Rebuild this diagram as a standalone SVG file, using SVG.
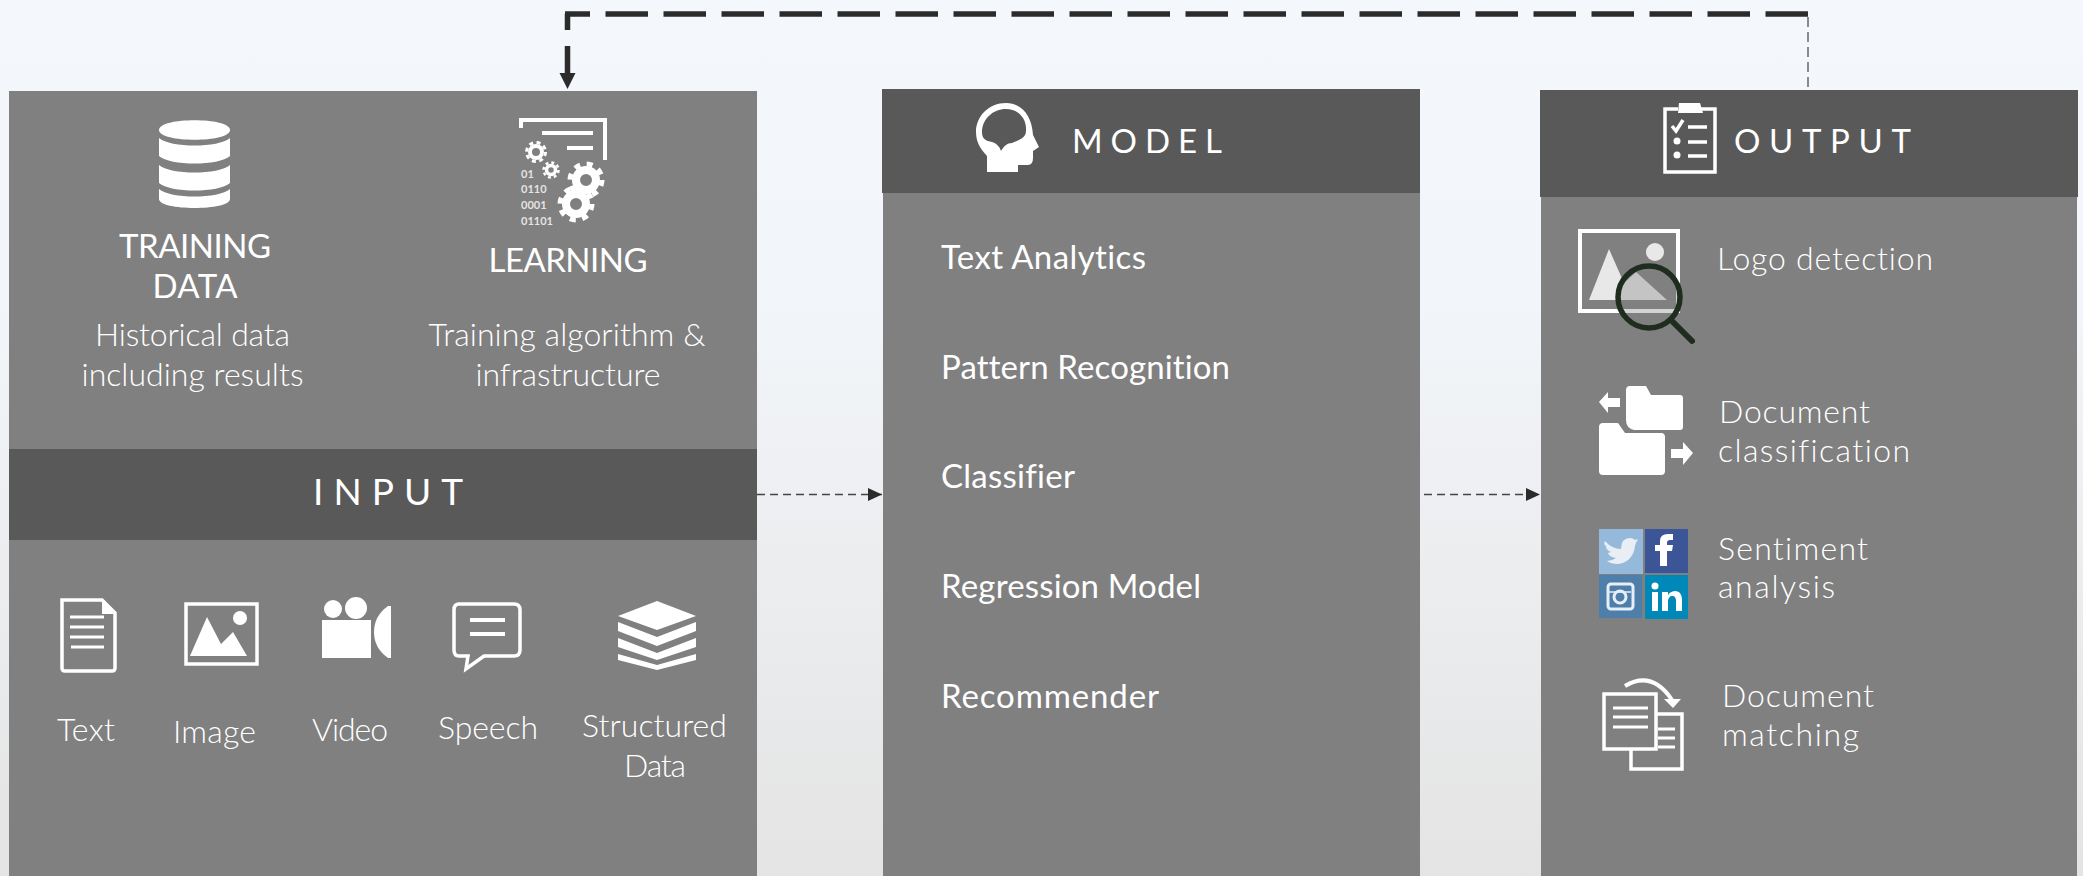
<svg xmlns="http://www.w3.org/2000/svg" width="2083" height="876" viewBox="0 0 2083 876">
<style>
text{font-family:"Lato","Open Sans","Liberation Sans",sans-serif;fill:#fff;font-weight:300;font-size:32px;font-variant-ligatures:none}
.m{text-anchor:middle}
.h{font-size:33px;font-weight:400}
.item{font-size:33px;font-weight:400}
.bin{font-size:11px;font-weight:700;fill:#e4e4e4}
.panel{fill:#808080}
.head{fill:#595959}
.w{fill:#fff}
.o{fill:none;stroke:#fff;stroke-width:3.5}
.l{fill:none;stroke:#fff;stroke-width:3}
</style>
<defs>
<linearGradient id="bg" x1="0" y1="0" x2="0" y2="1"><stop offset="0" stop-color="#f4f8fc"/><stop offset="0.35" stop-color="#f2f5f9"/><stop offset="1" stop-color="#e4e4e4"/></linearGradient>
<marker id="a" markerUnits="userSpaceOnUse" markerWidth="14" markerHeight="14" refX="14" refY="7" orient="auto"><path d="M0 0.5L14 7L0 13.5Z" fill="#2b2b2b"/></marker>
</defs>
<rect width="2083" height="876" fill="url(#bg)"/>
<g id="input">
<rect class="panel" x="9" y="91" width="748" height="785"/>
<rect class="head" x="9" y="449" width="748" height="91"/>
<text x="313" y="505" style="font-size:37px;font-weight:400" textLength="150">INPUT</text>
</g>
<g id="training-data">
<path class="w" d="M159 130C159 117 230 117 230 130C230 143 159 143 159 130Z"/>
<path class="w" d="M159 138C170 148 219 148 230 138V156C219 166 170 166 159 156Z"/>
<path class="w" d="M159 165C170 175 219 175 230 165V183C219 193 170 193 159 183Z"/>
<path class="w" d="M159 190C170 200 219 200 230 190V200C230 212 159 212 159 200Z" transform="translate(0 -1)"/>
<text class="h m" x="195" y="258" textLength="152">TRAINING</text>
<text class="h m" x="195" y="298" textLength="85">DATA</text>
<text class="m" x="192.500" y="346" textLength="195">Historical data</text>
<text class="m" x="192.500" y="386" textLength="222">including results</text>
</g>
<g id="learning">
<path class="l" style="stroke-width:4" d="M521 128V120H605V160"/>
<path class="l" style="stroke-width:4" d="M542 133H593M567 148H593"/>
<circle cx="536" cy="152" r="6" class="o" style="stroke-width:4"/>
<circle cx="536" cy="152" r="9.500" class="o" style="stroke-width:3" stroke-dasharray="4 3.500"/>
<circle cx="551" cy="170" r="4.500" class="o" style="stroke-width:3.500"/>
<circle cx="551" cy="170" r="7.500" class="o" style="stroke-width:2.500" stroke-dasharray="3 2.900"/>
<circle cx="586" cy="180" r="10" class="o" style="stroke-width:8"/>
<circle cx="586" cy="180" r="16" class="o" style="stroke-width:5" stroke-dasharray="6 6.600"/>
<circle cx="576" cy="204" r="10" class="o" style="stroke-width:8"/>
<circle cx="576" cy="204" r="16" class="o" style="stroke-width:5" stroke-dasharray="6 6.600"/>
<text class="bin" x="521" y="178">01</text>
<text class="bin" x="521" y="193">0110</text>
<text class="bin" x="521" y="209">0001</text>
<text class="bin" x="521" y="225">01101</text>
<text class="h m" x="568" y="272" textLength="159">LEARNING</text>
<text class="m" x="567" y="346" textLength="277">Training algorithm &amp;</text>
<text class="m" x="568" y="386" textLength="185">infrastructure</text>
</g>
<g id="text-source">
<path class="o" d="M62 600H102L115 613V668Q115 671 112 671H65Q62 671 62 668Z"/><path class="w" d="M102 598L116 614H102Z"/>
<path class="l" d="M70 617H104M70 627H104M70 637H104M71 647H104"/>
<text class="m" x="86" y="741" textLength="58">Text</text>
</g>
<g id="image-source">
<rect class="o" x="186" y="604" width="71" height="60"/>
<path class="w" d="M190 656L207 617L221 644L233 632L247 656Z"/><circle class="w" cx="240" cy="618" r="7"/>
<text class="m" x="214.500" y="743" textLength="83">Image</text>
</g>
<g id="video-source">
<circle class="w" cx="333" cy="609" r="9"/><circle class="w" cx="356" cy="608" r="11"/>
<rect class="w" x="322" y="620" width="49" height="38"/>
<path class="w" d="M391 606V658H388Q374 648 374 632Q374 616 388 606Z"/>
<text class="m" x="350" y="741" textLength="76">Video</text>
</g>
<g id="speech-source">
<path class="o" d="M459 604H514Q520 604 520 610V650Q520 656 514 656H484L466 669L468 656H459Q454 656 454 650V610Q454 604 459 604Z"/>
<path class="l" d="M470 620H505M470 634H505" style="stroke-width:4"/>
<text class="m" x="488" y="739" textLength="100">Speech</text>
</g>
<g id="structured-source">
<path class="w" d="M657 601L696 616L657 630L618 616Z"/>
<path class="w" d="M618 622L657 637L696 622L696 631L657 646L618 631Z"/>
<path class="w" d="M618 638L657 653L696 638L696 647L657 660L618 647Z"/>
<path class="w" d="M618 654L657 665L696 654L696 660L657 670L618 660Z"/>
<text class="m" x="654.500" y="737" textLength="145">Structured</text>
<text class="m" x="655" y="777" textLength="62">Data</text>
</g>
<g id="model">
<rect class="panel" x="883" y="193" width="537" height="683"/>
<rect class="head" x="882" y="89" width="538" height="104"/>
<path class="w" d="M1006 103C989 103 976 116 976 132C976 144 982 150 987 156V172H1018V165H1028Q1033 165 1033 158V151L1039 147L1033 135C1032 116 1022 103 1006 103Z"/>
<path fill="#595959" d="M1006 109C993 109 982 119 982 132C982 139 986 141 992 142C998 144 1000 148 1001 151C1004 146 1007 143 1012 143L1019 140Q1026 137 1026 131C1027 118 1018 109 1006 109Z"/>
<text x="1072" y="153" class="h" textLength="150">MODEL</text>
<text class="item" x="941" y="269" textLength="205">Text Analytics</text>
<text class="item" x="941" y="379" textLength="289">Pattern Recognition</text>
<text class="item" x="941" y="488" textLength="134">Classifier</text>
<text class="item" x="941" y="598" textLength="260">Regression Model</text>
<text class="item" x="941" y="708" textLength="218">Recommender</text>
</g>
<g id="output">
<rect class="panel" x="1541" y="197" width="536" height="679"/>
<rect class="head" x="1540" y="90" width="538" height="107"/>
<g id="clipboard">
<path class="o" d="M1678 109H1665V172H1715V109H1701"/>
<path class="w" d="M1679 103H1700L1703 113H1678Z"/>
<path class="l" d="M1672 126L1676 131L1683 120" style="stroke-width:3.500"/>
<path class="l" d="M1688 127H1707M1688 142H1707M1688 156H1707" style="stroke-width:3.500"/>
<circle class="w" cx="1677" cy="141" r="3.500"/><circle class="w" cx="1677" cy="155" r="3.500"/>
</g>
<text x="1734" y="153" class="h" textLength="177">OUTPUT</text>
<g id="logo-detection">
<rect x="1580" y="231" width="98" height="80" fill="none" stroke="#fff" stroke-width="4"/>
<path fill="#e8e8e8" d="M1589 300L1609 249L1624 283L1636 272L1667 300Z"/>
<circle cx="1655" cy="252" r="9" fill="#e8e8e8"/>
<circle cx="1649" cy="297" r="31" fill="#808080" fill-opacity=".35" stroke="#1f2d1f" stroke-width="5.500"/>
<path d="M1671 320L1692 341" stroke="#1f2d1f" stroke-width="6" stroke-linecap="round" fill="none"/>
<text x="1717" y="270" textLength="216">Logo detection</text>
</g>
<g id="document-classification">
<path class="w" d="M1626 390Q1626 386 1630 386H1646L1651 395H1680Q1683 395 1683 398V427Q1683 430 1680 430H1634Q1626 428 1626 420Z"/>
<path class="w" d="M1599 402L1608 392V398H1620V407H1608V413Z"/>
<path class="w" d="M1599 427Q1599 423 1603 423H1618L1625 433H1661Q1665 433 1665 437V471Q1665 475 1661 475H1603Q1599 475 1599 471Z"/>
<path class="w" d="M1693 453L1683 442V449H1671V458H1683V465Z"/>
<text x="1719" y="423" textLength="151">Document</text>
<text x="1718" y="462" textLength="192">classification</text>
</g>
<g id="sentiment-analysis">
<rect x="1599" y="529" width="44" height="45" fill="#95b9da"/>
<rect x="1645" y="529" width="43" height="44" fill="#3b5597"/>
<rect x="1599" y="575" width="43" height="43" fill="#4e7fab"/>
<rect x="1645" y="575" width="43" height="44" fill="#0089b8"/>
<path fill="#e8eef4" d="M1605 541Q1612 549 1621 549Q1621 538 1630 538Q1633 538 1635 540L1638 539L1636 543L1635 546C1634 557 1626 564 1617 564Q1611 564 1607 561Q1612 561 1616 558Q1609 557 1608 553L1611 552Q1606 550 1606 546Q1603 544 1605 541Z"/>
<path class="w" d="M1660 566V551H1655V545H1660V541Q1660 534 1668 534H1673V540H1670Q1667 540 1667 543V545H1673L1672 551H1667V566Z"/>
<rect x="1608" y="584" width="25" height="25" rx="3" fill="none" stroke="#e8eef4" stroke-width="3"/><circle cx="1620" cy="597" r="6" fill="none" stroke="#e8eef4" stroke-width="3"/><path d="M1609 592H1631" stroke="#e8eef4" stroke-width="1.500"/>
<circle class="w" cx="1655" cy="586" r="3.500"/>
<path class="w" d="M1652 592H1658V611H1652ZM1662 592H1668V595C1670 592 1673 591 1675 591C1680 591 1682 595 1682 600V611H1676V601C1676 598 1675 596 1672 596C1670 596 1668 598 1668 601V611H1662Z"/>
<text x="1718" y="560" textLength="150">Sentiment</text>
<text x="1718" y="598" textLength="117">analysis</text>
</g>
<g id="document-matching">
<rect class="o" x="1631" y="714" width="51" height="55"/>
<rect x="1604" y="694" width="52" height="55" fill="#808080" stroke="#fff" stroke-width="3.500"/>
<path class="l" d="M1613 708H1648M1613 717H1648M1613 727H1648M1658 729H1675M1658 738H1675M1658 747H1675"/>
<path class="l" style="stroke-width:4" d="M1625 686Q1652 670 1672 700"/>
<path class="w" d="M1664 699L1681 699L1673 708Z"/>
<text x="1722" y="707" textLength="152">Document</text>
<text x="1722" y="746" textLength="137">matching</text>
</g>
</g>
<g id="connectors" fill="none">
<path d="M1808 14H565" stroke="#2b2b2b" stroke-width="5.500" stroke-dasharray="42.500 15.500"/>
<path d="M567.500 14V30M567.500 46V73" stroke="#2b2b2b" stroke-width="5.500"/>
<path d="M559.500 73H575.500L567.500 89Z" fill="#2b2b2b"/>
<path d="M1808 17V90" stroke="#666" stroke-width="1.500" stroke-dasharray="10 5"/>
<path d="M757 494.500H882" stroke="#444" stroke-width="1.500" stroke-dasharray="8 5" marker-end="url(#a)"/>
<path d="M1424 494.500H1540" stroke="#444" stroke-width="1.500" stroke-dasharray="8 5" marker-end="url(#a)"/>
</g>
</svg>
